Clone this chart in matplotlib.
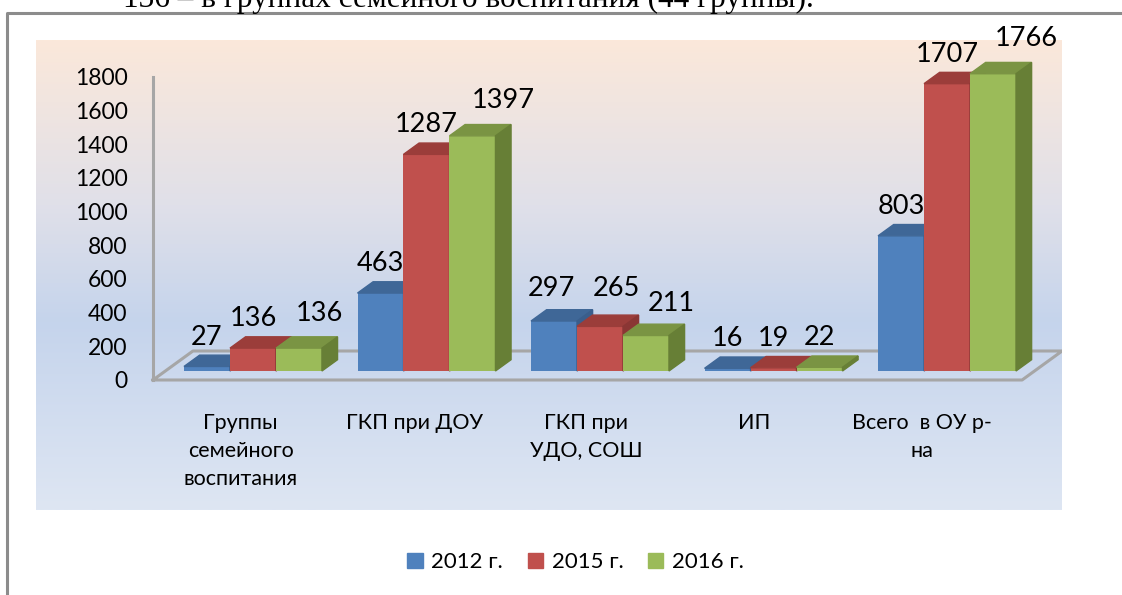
import numpy as np
import matplotlib.pyplot as plt
from matplotlib.patches import Polygon, Patch
from matplotlib.lines import Line2D

plt.rcParams['font.family'] = ['Lato', 'Open Sans', 'DejaVu Sans']

# donnees
categories = ['Группы\nсемейного\nвоспитания', 'ГКП при ДОУ', 'ГКП при\nУДО, СОШ', 'ИП', 'Всего  в ОУ р-\nна']
series = ['2012 г.', '2015 г.', '2016 г.']
v2012 = [27, 463, 297, 16, 803]
v2015 = [136, 1287, 265, 19, 1707]
v2016 = [136, 1397, 211, 22, 1766]
yticks = [0, 200, 400, 600, 800, 1000, 1200, 1400, 1600, 1800]

front = ['#4F81BD', '#C0504D', '#9BBB59']
top = ['#3F6797', '#9B3D3A', '#7A9443']
side = ['#3A5E8C', '#8A3634', '#677F36']

# decalage des etiquettes (points) pour eviter les chevauchements
lab_dx = [[0, 0, 15], [0, 0, 22], [-2, 12, 18], [0, 0, 0], [0, 0, 24]]
lab_dy = [[0, 0, 4], [0, 0, 4], [2, 6, 2], [0, 0, 0], [0, 0, 4]]
cat_shift = [0, 0, -0.01, -0.04, -0.075]

fig = plt.figure(figsize=(11.22, 5.95), dpi=100)
ax = fig.add_axes([36/1122, 85/595, 1026/1122, 470/595])
ax.set_xlim(-1.179, 4.734)
ax.set_ylim(-772.3, 2019.8)
for s in ax.spines.values():
    s.set_visible(False)
ax.patch.set_alpha(0)

# fond degrade
c = np.array([[251, 232, 218], [224, 224, 233], [197, 212, 236], [222, 230, 243]]) / 255
t = np.linspace(0, 1, 256)
grad = np.stack([np.interp(t, [0, 0.35, 0.6, 1], c[:, j]) for j in range(3)], axis=1)
ax.imshow(grad[:, None, :], extent=[0, 1, 0, 1], transform=ax.transAxes,
          aspect='auto', zorder=0)

# sol en perspective
Dx, Dy = 0.2305, 172.3
fl, fr = -0.505, 4.504
gray = '#A6A6A6'
ax.plot([fl, fl], [0, 1800], color=gray, lw=2.2, zorder=1)
ax.plot([fl, fr, fr + Dx, fl + Dx, fl], [0, 0, Dy, Dy, 0], color=gray, lw=2.2, zorder=1)

# barres 3D
w = 0.265
f0, f1 = 0.31, 0.70
bx, by = f0*Dx, f0*Dy
ddx, ddy = (f1-f0)*Dx, (f1-f0)*Dy
data = [v2012, v2015, v2016]
z = 2
for i in range(len(categories)):
    for k in range(3):
        v = data[k][i]
        x0 = i + (k-1)*w - w/2 + bx
        x1 = x0 + w
        y0 = by
        y1 = y0 + v
        ax.bar(x0, v, width=w, bottom=y0, align='edge', color=front[k], zorder=z)
        ax.add_patch(Polygon([(x0, y1), (x1, y1), (x1+ddx, y1+ddy), (x0+ddx, y1+ddy)],
                             closed=True, color=top[k], zorder=z))
        ax.add_patch(Polygon([(x1, y0), (x1, y1), (x1+ddx, y1+ddy), (x1+ddx, y0+ddy)],
                             closed=True, color=side[k], zorder=z))
        z += 1
        ax.annotate(str(v), xy=(x0 + w/2, y1 + ddy), xytext=(lab_dx[i][k], 13 + lab_dy[i][k]),
                    textcoords='offset points', ha='center', va='center',
                    fontsize=19.5, color='black', zorder=50, annotation_clip=False)

ax.set_yticks(yticks)
ax.set_yticklabels([str(y) for y in yticks], fontsize=16.5)
ax.tick_params(axis='y', length=0, pad=-66)
ax.set_xticks([i + cat_shift[i] for i in range(len(categories))])
ax.set_xticklabels(categories, fontsize=15.5)
ax.tick_params(axis='x', length=0, pad=-70)
for lab in ax.get_xticklabels():
    lab.set_linespacing(1.5)

# legende
handles = [Patch(color=front[k]) for k in range(3)]
fig.legend(handles, series, loc='center', bbox_to_anchor=(0.513, 0.0555), ncol=3,
           frameon=False, fontsize=16, handlelength=0.68, handleheight=0.68,
           handletextpad=0.4, columnspacing=1.1)

# cadre et texte coupe du document (coupe en haut comme dans l'original)
fig.add_artist(Line2D([7/1122, 7/1122, 1], [0, 1-13/595, 1-13/595],
                      transform=fig.transFigure, color='#8C8C8C', lw=2.2))
fig.text(123/1122, 1-7/595, '136 – в группах семейного воспитания (44 группы).',
         fontsize=22.5, family='Liberation Serif', va='baseline', ha='left')

fig.savefig('out.png', dpi=100)
